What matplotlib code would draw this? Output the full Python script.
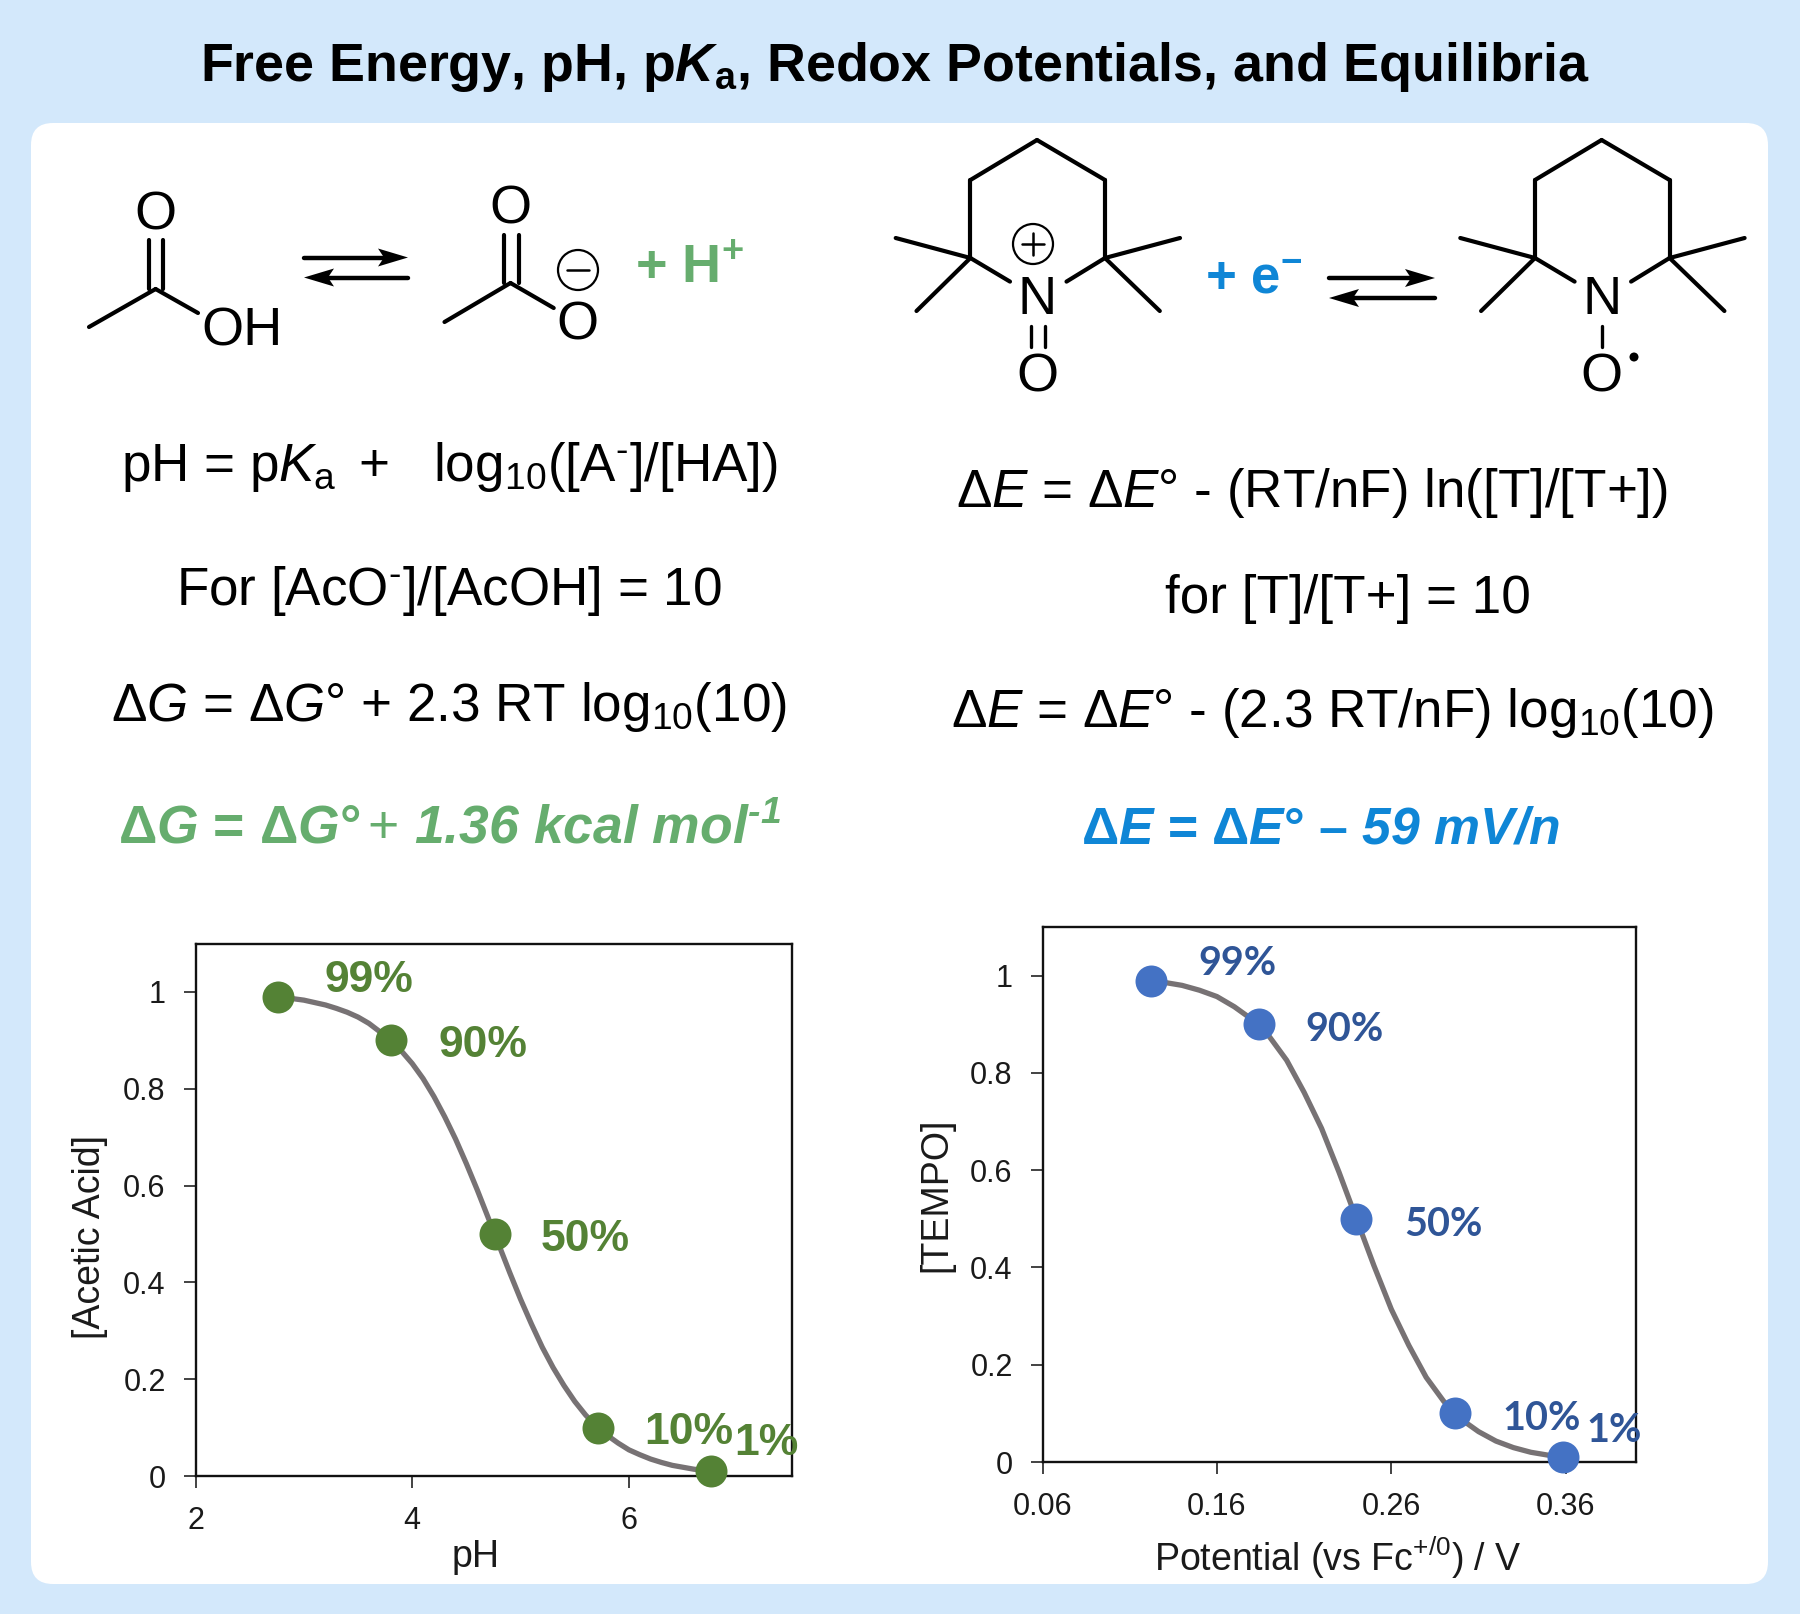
import matplotlib
matplotlib.use('Agg')
import matplotlib.pyplot as plt
from matplotlib.patches import FancyBboxPatch, Ellipse, Polygon

plt.rcParams['font.family'] = 'Liberation Sans'
plt.rcParams['mathtext.fontset'] = 'custom'
plt.rcParams['mathtext.rm'] = 'Liberation Sans'
plt.rcParams['mathtext.it'] = 'Liberation Sans:italic'
plt.rcParams['mathtext.bf'] = 'Liberation Sans:bold'
plt.rcParams['mathtext.bfit'] = 'Liberation Sans:italic:bold'

# chart data
labels = ['99%', '90%', '50%', '10%', '1%']
frac = [0.99, 0.90, 0.50, 0.10, 0.01]

ph_pts = [2.76, 3.80, 4.76, 5.71, 6.76]
ph_curve = [2.76, 2.9, 3.0, 3.1, 3.2, 3.3, 3.4, 3.5, 3.6, 3.7, 3.8, 3.9, 4.0, 4.1, 4.2, 4.3, 4.4, 4.5, 4.6, 4.76,
            4.9, 5.0, 5.1, 5.2, 5.3, 5.4, 5.5, 5.6, 5.71, 5.8, 5.9, 6.0, 6.1, 6.2, 6.3, 6.4, 6.5, 6.6, 6.76]
ph_frac = [0.99, 0.986, 0.983, 0.978, 0.973, 0.966, 0.958, 0.948, 0.935, 0.918, 0.90, 0.878, 0.852, 0.821, 0.784,
           0.742, 0.696, 0.645, 0.591, 0.50, 0.42, 0.365, 0.314, 0.266, 0.224, 0.187, 0.154, 0.126, 0.10, 0.084,
           0.068, 0.054, 0.044, 0.035, 0.028, 0.022, 0.018, 0.014, 0.01]
ph_lab_x = [3.60, 4.65, 5.60, 6.55, 7.27]
ph_lab_y = [1.023, 0.89, 0.488, 0.09, 0.068]

e_pts = [0.122, 0.184, 0.240, 0.2966, 0.3585]
e_curve = [0.122, 0.13, 0.14, 0.15, 0.16, 0.17, 0.184, 0.19, 0.20, 0.21, 0.22, 0.23, 0.240, 0.25, 0.26, 0.27,
           0.28, 0.29, 0.2966, 0.30, 0.31, 0.32, 0.33, 0.34, 0.35, 0.3585]
e_frac = [0.99, 0.986, 0.98, 0.97, 0.957, 0.936, 0.90, 0.875, 0.826, 0.76, 0.686, 0.596, 0.50, 0.404, 0.314, 0.24,
          0.174, 0.125, 0.10, 0.088, 0.0625, 0.043, 0.0296, 0.02, 0.014, 0.01]
e_lab_x = [0.1717, 0.233, 0.2898, 0.3463, 0.388]
e_lab_y = [1.024, 0.889, 0.488, 0.089, 0.064]

y_ticks = [0, 0.2, 0.4, 0.6, 0.8, 1]
y_ticklabels = ['0', '0.2', '0.4', '0.6', '0.8', '1']
ph_ticks = [2, 4, 6]
e_ticks = [0.06, 0.16, 0.26, 0.36]

BG = '#D3E8FB'
GREEN = '#66AD6E'
BLUE = '#0F86D6'
CURVE = '#777274'
TXT = '#1A1A1A'

W, H = 1800, 1614
fig = plt.figure(figsize=(W / 100, H / 100), dpi=100, facecolor=BG)
over = fig.add_axes([0, 0, 1, 1], zorder=0)
over.set_xlim(0, W)
over.set_ylim(H, 0)
over.axis('off')

over.add_patch(FancyBboxPatch((51, 143), 1697, 1421, boxstyle='round,pad=20,rounding_size=22',
                              fc='white', ec='none'))

over.text(895, 67, 'Free Energy, pH, p$\\mathbfit{K}_{\\mathbf{a}}$, Redox Potentials, and Equilibria',
          fontsize=38.7, fontweight='bold', color='black', ha='center', va='center')

EQ = 38.2
def eq(x, y, s, **kw):
    kw.setdefault('fontsize', EQ)
    kw.setdefault('color', 'black')
    over.text(x, y, s, ha='center', va='center_baseline', **kw)

eq(449, 461, 'pH = p$\\mathit{K}_{\\mathrm{a}}$$\\,$ +   log$_{10}$([A$^{‐}$]/[HA])')
eq(449, 584, 'For [AcO$^{‐}$]/[AcOH] = 10')
eq(449, 701, 'Δ$\\mathit{G}$ = Δ$\\mathit{G}$° + 2.3 RT log$_{10}$(10)')
eq(449, 824, 'Δ$\\mathbfit{G}$ = Δ$\\mathbfit{G}$°$\\,\\mathrm{+}$ $\\mathbfit{1.36\\ kcal\\ mol^{‐1}}$',
   color=GREEN, fontweight='bold', fontsize=38.5)
eq(1312, 487, 'Δ$\\mathit{E}$ = Δ$\\mathit{E}$° - (RT/nF) ln([T]/[T+])')
eq(1348, 593, 'for [T]/[T+] = 10')
eq(1332, 707, 'Δ$\\mathit{E}$ = Δ$\\mathit{E}$° - (2.3 RT/nF) log$_{10}$(10)')
eq(1320, 824, 'Δ$\\mathbfit{E}$ = Δ$\\mathbfit{E}$° – $\\mathbfit{59\\ mV/n}$', color=BLUE, fontweight='bold', fontsize=37.3)


def bond(x0, y0, x1, y1, lw=3.0):
    over.plot([x0, x1], [y0, y1], color='black', lw=lw, solid_capstyle='round')


def atom(x, y, s, size=39):
    over.text(x, y, s, fontsize=size, ha='center', va='center', color='black')


def charge(x, y, plus):
    over.add_patch(Ellipse((x, y), 40, 40, fc='none', ec='black', lw=1.6))
    bond(x - 11, y, x + 11, y, lw=1.8)
    if plus:
        bond(x, y - 11, x, y + 11, lw=1.8)


def arrows(x0, x1, y0, y1):
    # equilibrium pair, drawn in reference pixels
    bond(x0, y0, x1 - 15, y0, lw=3.2)
    over.add_patch(Polygon([(x1, y0), (x1 - 30, y0 - 9), (x1 - 24, y0), (x1 - 30, y0 + 9)], fc='black', ec='none'))
    bond(x0 + 15, y1, x1, y1, lw=3.2)
    over.add_patch(Polygon([(x0, y1), (x0 + 30, y1 - 9), (x0 + 24, y1), (x0 + 30, y1 + 9)], fc='black', ec='none'))


# acetic acid
bond(89, 327, 155.6, 289)
bond(155.6, 289, 198, 313)
bond(148.8, 240, 148.8, 289)
bond(163, 240, 163, 289)
atom(155, 216, 'O')
atom(242, 331, 'OH')
arrows(304, 408, 257.5, 277.5)

# acetate
bond(444.5, 322, 510.5, 283)
bond(510.5, 283, 553.7, 308)
bond(503.7, 235, 503.7, 283)
bond(518.7, 235, 518.7, 283)
atom(510, 210, 'O')
atom(577, 326, 'O')
charge(578, 270, False)
over.text(689, 269, '+ H$^{\\mathbf{+}}$', fontsize=39, fontweight='bold', color=GREEN, ha='center', va='center')


def tempo(dx):
    hexa = [(970.4, 258), (970.4, 180), (1037, 140), (1105, 180), (1105, 258)]
    for (a, b), (c, d) in zip(hexa[:-1], hexa[1:]):
        bond(a + dx, b, c + dx, d)
    bond(970.4 + dx, 258, 1010 + dx, 281.6)
    bond(1105 + dx, 258, 1066.5 + dx, 281.6)
    bond(970.4 + dx, 258, 895.7 + dx, 238)
    bond(970.4 + dx, 258, 916.5 + dx, 311)
    bond(1105 + dx, 258, 1180 + dx, 238)
    bond(1105 + dx, 258, 1159.8 + dx, 311)
    atom(1037 + dx, 300, 'N')
    atom(1037 + dx, 378, 'O')


tempo(0)
tempo(564.6)
bond(1030.6, 326, 1030.6, 347, lw=2.4)
bond(1044.6, 326, 1044.6, 347, lw=2.4)
charge(1033, 244, True)
bond(1601.6, 326, 1601.6, 347, lw=2.4)
over.add_patch(Ellipse((1634, 357), 9, 9, fc='black', ec='none'))
over.text(1254, 280, '+ e$^{\\mathbf{-}}$', fontsize=38, fontweight='bold', color=BLUE, ha='center', va='center')
arrows(1329, 1435, 278, 298)


def px_axes(x0, y0, x1, y1):
    return fig.add_axes([x0 / W, 1 - y1 / H, (x1 - x0) / W, (y1 - y0) / H], zorder=2)


def chart(ax, pts_x, curve_x, curve_y, lab_x, lab_y, dot, lab_col, lab_font, lab_size):
    ax.plot(curve_x, curve_y, color=CURVE, lw=3.8, solid_capstyle='round', zorder=3)
    ax.scatter(pts_x, frac, s=530, color=dot, zorder=4, clip_on=False, linewidths=0)
    for x, y, s in zip(lab_x, lab_y, labels):
        ax.text(x, y, s, color=lab_col, fontsize=lab_size, fontweight='bold', family=lab_font,
                ha='center', va='center', clip_on=False, zorder=5)
    ax.set_ylim(0, 1.1)
    ax.set_yticks(y_ticks)
    ax.set_yticklabels(y_ticklabels)
    ax.tick_params(length=8.5, width=1.2, labelsize=22, labelcolor=TXT, color='#222222', pad=13)
    for sp in ax.spines.values():
        sp.set_linewidth(1.7)
        sp.set_color('#111111')


ax1 = px_axes(195.5, 943.5, 791.5, 1476)
chart(ax1, ph_pts, ph_curve, ph_frac, ph_lab_x, ph_lab_y, '#548235', '#548235', 'Liberation Sans', 32)
ax1.set_xlim(2, 7.5)
ax1.set_xticks(ph_ticks)
ax1.set_xlabel('pH', fontsize=27, color=TXT, va='center')
ax1.set_ylabel('[Acetic Acid]', fontsize=27, color=TXT, va='center')
ax1.xaxis.set_label_coords(476, 1557, transform=over.transData)
ax1.yaxis.set_label_coords(90, 1237, transform=over.transData)

ax2 = px_axes(1042.5, 927, 1635.5, 1462)
chart(ax2, e_pts, e_curve, e_frac, e_lab_x, e_lab_y, '#4472C4', '#2F5597', 'Lato', 28.5)
ax2.set_xlim(0.06, 0.40)
ax2.set_xticks(e_ticks)
ax2.set_xticklabels(['0.06', '0.16', '0.26', '0.36'])
ax2.set_xlabel('Potential (vs Fc$^{+/0}$) / V', fontsize=27, color=TXT, va='center')
ax2.set_ylabel('[TEMPO]', fontsize=27, color=TXT, va='center')
ax2.xaxis.set_label_coords(1338, 1558, transform=over.transData)
ax2.yaxis.set_label_coords(936, 1195, transform=over.transData)

fig.savefig('out.png', dpi=100, facecolor=BG)
